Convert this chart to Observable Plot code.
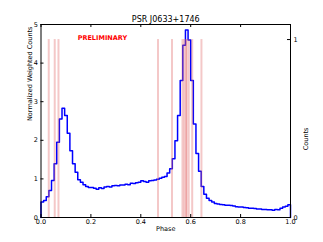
<!DOCTYPE html>
<html>
<head>
<meta charset="utf-8">
<script src="https://cdn.jsdelivr.net/npm/d3@7"></script>
<script src="https://cdn.jsdelivr.net/npm/@observablehq/plot@0.6"></script>
<style>
  html, body { margin: 0; padding: 0; background: #fff; }
  svg { display: block; }
</style>
</head>
<body>
<div id="chart"></div>
<script>
// Histogram of normalized weighted counts, 95 equal phase bins
const binCount = 95;
const counts = [
  0.40, 0.44, 0.54, 0.70, 0.96, 1.39, 1.95, 2.55, 2.83, 2.64,
  2.18, 1.73, 1.39, 1.17, 0.98, 0.91, 0.85, 0.80, 0.78, 0.78,
  0.76, 0.73, 0.77, 0.75, 0.79, 0.80, 0.79, 0.82, 0.83, 0.82,
  0.84, 0.84, 0.86, 0.85, 0.89, 0.88, 0.90, 0.91, 0.95, 0.93,
  0.91, 0.95, 0.96, 0.97, 0.99, 1.02, 1.04, 1.06, 1.15, 1.26,
  1.52, 1.99, 2.64, 3.55, 4.46, 4.86, 4.60, 3.55, 2.42, 1.66,
  1.20, 0.80, 0.60, 0.50, 0.44, 0.40, 0.36, 0.35, 0.34, 0.33,
  0.32, 0.32, 0.31, 0.30, 0.28, 0.27, 0.27, 0.26, 0.25, 0.24,
  0.24, 0.23, 0.22, 0.22, 0.21, 0.21, 0.20, 0.20, 0.19, 0.21,
  0.20, 0.24, 0.27, 0.29, 0.33
];
// Photon event phases (right axis: Counts = 1)
const events = [0.031, 0.055, 0.070, 0.469, 0.525, 0.567, 0.574, 0.582, 0.583, 0.592, 0.606, 0.643];
const eventCount = 1;
// left-axis value where the right-axis "1" sits
const countsTop = 4.61;

const xTicks = [0, 0.2, 0.4, 0.6, 0.8, 1.0];
const yTicks = [0, 1, 2, 3, 4, 5];
const rightTicks = [0, 1];

const titleText = "PSR J0633+1746";
const xLabel = "Phase";
const yLabel = "Normalized Weighted Counts";
const y2Label = "Counts";
const stamp = "PRELIMINARY";

// build step points
const pts = [{x: 0, y: 0}];
counts.forEach((v, k) => pts.push({x: k / binCount, y: v}));
pts.push({x: 1, y: counts[counts.length - 1]});
pts.push({x: 1, y: 0});

const W = 323, H = 242;
const mL = 40.5, mR = 33, mT = 24, mB = 25;
const fw = W - mL - mR, fh = H - mT - mB;
const tl = 3;
const font = "DejaVu Sans, sans-serif";

const chart = Plot.plot({
  width: W,
  height: H,
  marginLeft: mL,
  marginRight: mR,
  marginTop: mT,
  marginBottom: mB,
  style: {fontFamily: font, fontSize: "6.5px", color: "#000", background: "#fff"},
  x: {domain: [0, 1]},
  y: {domain: [0, 5]},
  marks: [
    Plot.line(pts, {x: "x", y: "y", curve: "step-after", stroke: "#0000ff", strokeWidth: 1.5}),
    Plot.ruleX(events, {x: d => d, y1: 0, y2: eventCount * countsTop, stroke: "#e06060", strokeOpacity: 0.35, strokeWidth: 2}),
    Plot.frame({stroke: "#000", strokeWidth: 1}),
    // inward ticks
    Plot.tickX(xTicks, {x: d => d, insetTop: fh - tl, stroke: "#000"}),
    Plot.tickX(xTicks, {x: d => d, insetBottom: fh - tl, stroke: "#000"}),
    Plot.tickY(yTicks, {y: d => d, insetRight: fw - tl, stroke: "#000"}),
    Plot.tickY(rightTicks, {y: d => d * countsTop, insetLeft: fw - tl, stroke: "#000"}),
    Plot.axisX(xTicks, {anchor: "bottom", tickSize: 0, tickPadding: 2, tickFormat: d3.format(".1f"), label: null, fontSize: 6.5}),
    Plot.axisY(yTicks, {anchor: "left", tickSize: 0, tickPadding: 3, tickFormat: d3.format("d"), label: null, fontSize: 6.5}),
    Plot.axisY(rightTicks.map(d => d * countsTop), {anchor: "right", tickSize: 0, tickPadding: 3, tickFormat: d => String(Math.round(d / countsTop)), label: null, fontSize: 6.5}),
    Plot.text([titleText], {frameAnchor: "top", dy: -8, text: d => d, fontSize: 8, fill: "#000"}),
    Plot.text([xLabel], {frameAnchor: "bottom", dy: 13, text: d => d, fontSize: 6.5, fill: "#000"}),
    Plot.text([yLabel], {frameAnchor: "left", dx: -11.5, rotate: -90, text: d => d, fontSize: 6.5, fill: "#000"}),
    Plot.text([y2Label], {frameAnchor: "right", dx: 15, dy: 6.5, rotate: -90, text: d => d, fontSize: 6.5, fill: "#000"}),
    Plot.text([stamp], {x: 0.246, y: 4.64, text: d => d, fill: "#ff0000", fontSize: 6.5, fontWeight: "bold"})
  ]
});
document.getElementById("chart").appendChild(chart);
</script>
</body>
</html>
